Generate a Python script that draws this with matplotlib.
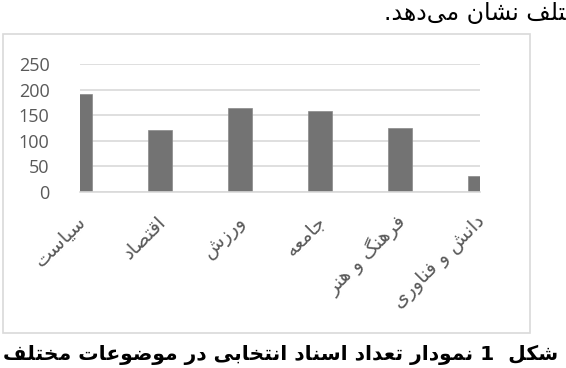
import re
import matplotlib
matplotlib.use("Agg")
import matplotlib.pyplot as plt
from matplotlib.patches import Rectangle
import matplotlib.transforms as mtransforms

# ---------------- data ----------------
categories = ["سیاست", "اقتصاد", "ورزش", "جامعه", "فرهنگ و هنر", "دانش و فناوری"]
values = [191, 121, 163, 158, 124, 31]
yticks = [0, 50, 100, 150, 200, 250]
caption = "شکل  1 نمودار تعداد اسناد انتخابی در موضوعات مختلف"
top_text = "مختلف نشان می\u200cدهد."

# ---------------- simple Persian shaping (presentation forms + visual order) ----------------
FORMS = {
    "\u0627": (0xFE8D, 0xFE8E), "\u062F": (0xFEA9, 0xFEAA), "\u0631": (0xFEAD, 0xFEAE),
    "\u0632": (0xFEAF, 0xFEB0), "\u0648": (0xFEED, 0xFEEE),
    "\u0628": (0xFE8F, 0xFE90, 0xFE91, 0xFE92), "\u062A": (0xFE95, 0xFE96, 0xFE97, 0xFE98),
    "\u062C": (0xFE9D, 0xFE9E, 0xFE9F, 0xFEA0), "\u062E": (0xFEA5, 0xFEA6, 0xFEA7, 0xFEA8),
    "\u0633": (0xFEB1, 0xFEB2, 0xFEB3, 0xFEB4), "\u0634": (0xFEB5, 0xFEB6, 0xFEB7, 0xFEB8),
    "\u0635": (0xFEB9, 0xFEBA, 0xFEBB, 0xFEBC), "\u0636": (0xFEBD, 0xFEBE, 0xFEBF, 0xFEC0),
    "\u0639": (0xFEC9, 0xFECA, 0xFECB, 0xFECC), "\u0641": (0xFED1, 0xFED2, 0xFED3, 0xFED4),
    "\u0642": (0xFED5, 0xFED6, 0xFED7, 0xFED8), "\u0644": (0xFEDD, 0xFEDE, 0xFEDF, 0xFEE0),
    "\u0645": (0xFEE1, 0xFEE2, 0xFEE3, 0xFEE4), "\u0646": (0xFEE5, 0xFEE6, 0xFEE7, 0xFEE8),
    "\u0647": (0xFEE9, 0xFEEA, 0xFEEB, 0xFEEC), "\u06CC": (0xFBFC, 0xFBFD, 0xFBFE, 0xFBFF),
    "\u06A9": (0xFB8E, 0xFB8F, 0xFB90, 0xFB91), "\u06AF": (0xFB92, 0xFB93, 0xFB94, 0xFB95),
}


def shape(s):
    out = []
    for i, c in enumerate(s):
        if c not in FORMS:
            if c != "\u200c":
                out.append(c)
            continue
        f = FORMS[c]
        prev = s[i - 1] if i > 0 else None
        nxt = s[i + 1] if i + 1 < len(s) else None
        pj = prev in FORMS and len(FORMS[prev]) == 4
        nj = nxt in FORMS and len(f) == 4
        if pj and nj:
            g = f[3]
        elif pj:
            g = f[1]
        elif nj:
            g = f[2]
        else:
            g = f[0]
        out.append(chr(g))
    rev = "".join(out)[::-1]
    return re.sub(r"[0-9]+", lambda m: m.group(0)[::-1], rev)


# ---------------- figure ----------------
W, H = 566, 368
fig = plt.figure(figsize=(W / 100, H / 100), dpi=100)
fig.patch.set_facecolor("white")

# chart frame
fig.patches.append(Rectangle((2.5 / W, 1 - 332.5 / H), (530 - 2.5) / W, (332.5 - 34) / H,
                             transform=fig.transFigure, fill=False,
                             edgecolor="#d9d9d9", linewidth=1.2))

left, right = 80 / W, 480 / W
bottom, top = 1 - 191.7 / H, 1 - 64 / H
ax = fig.add_axes([left, bottom, right - left, top - bottom])
x = list(range(len(categories)))
ax.bar(x, values, width=0.31, color="#737373", edgecolor="#8a8a8a", linewidth=0.5, zorder=3)
ax.set_xlim(0, len(categories) - 1)
ax.set_ylim(0, 250)
ax.set_yticks(yticks)
ax.set_yticklabels([str(v) for v in yticks], fontsize=13, color="#595959", family="Open Sans")
ax.tick_params(axis="y", length=0, pad=22)
ax.set_xticks([])
ax.grid(axis="y", color="#d9d9d9", linewidth=1.2, zorder=0)
for s in ["left", "right", "top"]:
    ax.spines[s].set_visible(False)
ax.spines["bottom"].set_color("#d9d9d9")
ax.spines["bottom"].set_linewidth(1.2)
ax.spines["bottom"].set_zorder(4)

off = mtransforms.offset_copy(ax.transData, fig=fig, x=3, y=-27, units="dots")
for xi, cat in zip(x, categories):
    ax.text(xi, 0, shape(cat), transform=off, rotation=45, rotation_mode="anchor",
            ha="right", va="center", fontsize=14, color="#595959",
            family="DejaVu Sans", clip_on=False)

# caption and top text (the top line is the tail of a paragraph cut by the right edge)
fig.text(558 / W, 1 - 355 / H, shape(caption), ha="right", va="center",
         fontsize=14.6, fontweight="bold", color="black", family="DejaVu Sans")
fig.text(566 / W, 1 - 13 / H, shape(top_text)[:-2], ha="right", va="center",
         fontsize=17, color="black", family="DejaVu Sans")

fig.savefig("out.png", dpi=100)
